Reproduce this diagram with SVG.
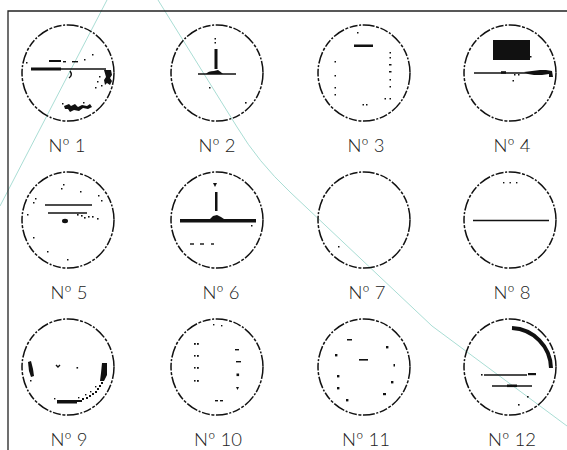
<svg xmlns="http://www.w3.org/2000/svg" width="567" height="450" viewBox="0 0 567 450">
<style>
.c{fill:none;stroke:#111;stroke-width:1.5;stroke-dasharray:12 1.6 3 1.6 8 1.6 2 1.6}
.l{fill:none;stroke:#111;stroke-width:1.4}
.k{fill:#111;stroke:none}
.t{font-family:Lato,"Liberation Sans",sans-serif;font-weight:300;font-size:18.5px;fill:#222;text-anchor:middle}
.bg{fill:none;stroke:#a9ddd4;stroke-width:1}
</style>
<rect width="567" height="450" fill="#fff"/>
<g id="background">
<path class="bg" d="M107,0 L0,206"/>
<path class="bg" d="M158,0 L237,127 Q258,162 290,192 L432,326 L567,426"/>
<path d="M8,450 V11 H567" fill="none" stroke="#222" stroke-width="1.3"/>
</g>

<g id="n1" transform="translate(68,73)">
<ellipse class="c" rx="46" ry="48"/>
<line class="l" x1="-37" y1="-4" x2="38" y2="-4"/>
<rect class="k" x="-37" y="-5.5" width="30" height="3"/>
<rect class="k" x="-19" y="-13" width="12" height="2"/>
<rect class="k" x="-5" y="-12" width="3" height="1.4"/>
<rect class="k" x="4" y="-12" width="6" height="1.4"/>
<rect class="k" x="16" y="-14" width="1.5" height="1.5"/>
<rect class="k" x="24" y="-19" width="1.5" height="1.5"/>
<rect class="k" x="-42" y="-11" width="1.5" height="1.5"/>
<path class="k" d="M36,-3 L43,-3 L44,2 L42,5 L44,8 L42,12 L39,10 L37,12 L36,7 L38,4 Z"/>
<rect class="k" x="31" y="3" width="1.5" height="1.5"/>
<rect class="k" x="29" y="8" width="1.5" height="1.5"/>
<rect class="k" x="33" y="12" width="1.5" height="1.5"/>
<rect class="k" x="27" y="14" width="1.5" height="1.5"/>
<path class="l" d="M2,-2 q3,4 -1,7" stroke-width="1.2"/>
<path class="k" d="M-4,33 L1,31 L3,33 L7,31 L10,34 L14,32 L19,33 L22,31 L24,34 L20,36 L15,35 L11,38 L6,37 L2,39 L0,36 L-3,36 Z"/>
<rect class="k" x="-6" y="30" width="1.5" height="1.5"/>
<rect class="k" x="15" y="29" width="1.5" height="1.5"/>
</g>

<g id="n2" transform="translate(217,73)">
<ellipse class="c" rx="46" ry="48"/>
<rect class="k" x="-2.5" y="-24" width="3" height="20"/>
<rect class="k" x="-2.5" y="-35" width="1.5" height="1.5"/>
<rect class="k" x="-2.5" y="-31" width="1.5" height="1.5"/>
<line class="l" x1="-19" y1="1" x2="19" y2="1"/>
<path class="k" d="M-11,1 Q-9,-2 -3,-2 L1,-3 Q4,-1 6,1 Z"/>
<rect class="k" x="-8" y="14" width="1.5" height="1.5"/>
<rect class="k" x="28" y="29" width="1.6" height="1.6"/>
</g>

<g id="n3" transform="translate(364,73)">
<ellipse class="c" rx="46" ry="48"/>
<rect class="k" x="-10" y="-28.5" width="19" height="2.5"/>
<g class="k">
<rect x="-7" y="-41" width="1.5" height="1.5"/>
<rect x="-29.5" y="-12" width="1.5" height="1.5"/>
<rect x="-29.5" y="2" width="1.5" height="1.5"/>
<rect x="-29.5" y="14" width="1.5" height="1.5"/>
<rect x="-29.5" y="21" width="1.5" height="1.5"/>
<rect x="25.5" y="-21" width="1.5" height="1.5"/>
<rect x="25.5" y="-16" width="1.5" height="1.5"/>
<rect x="25" y="-9" width="2.5" height="1.5"/>
<rect x="25" y="-2" width="2.5" height="1.5"/>
<rect x="25.5" y="6" width="1.5" height="1.5"/>
<rect x="25.5" y="13" width="1.5" height="1.5"/>
<rect x="20.5" y="25" width="1.5" height="1.5"/>
<rect x="25.5" y="25" width="1.5" height="1.5"/>
<rect x="-1.5" y="31" width="1.5" height="1.5"/>
<rect x="2" y="31" width="1.5" height="1.5"/>
</g>
</g>

<g id="n4" transform="translate(510,73)">
<ellipse class="c" rx="46" ry="48"/>
<rect class="k" x="-17" y="-33" width="37" height="20"/>
<rect class="k" x="20" y="-17" width="1.5" height="1.5"/>
<line class="l" x1="-36" y1="0" x2="30" y2="0" stroke-width="1.2"/>
<rect class="k" x="-9" y="-1.8" width="5" height="2.5"/>
<path class="k" d="M14,-1 L30,-3 L36,-3 L42,-2 L43,4 L39,4 L39,1 L32,2 L24,2 L18,1 Z"/>
<rect class="k" x="2.5" y="7" width="1.5" height="1.5"/>
<rect class="k" x="4" y="1" width="1.5" height="1.5"/>
<rect class="k" x="8" y="1" width="1.5" height="1.5"/>
</g>

<g id="n5" transform="translate(68,220)">
<ellipse class="c" rx="46" ry="48"/>
<line class="l" x1="-23" y1="-15" x2="24" y2="-15"/>
<line class="l" x1="-20" y1="-7" x2="19" y2="-7" stroke-width="2"/>
<g class="k">
<rect x="9" y="-6" width="1.6" height="1.6"/>
<rect x="13" y="-5" width="1.6" height="1.6"/>
<rect x="16" y="-3" width="1.6" height="1.6"/>
<rect x="20" y="-4" width="1.6" height="1.6"/>
<rect x="24" y="-4" width="1.6" height="1.6"/>
<rect x="29" y="-2" width="1.6" height="1.6"/>
<ellipse cx="-3" cy="1" rx="3" ry="2.2"/>
<rect x="-5" y="-36" width="1.5" height="1.5"/>
<rect x="-7" y="-32" width="1.5" height="1.5"/>
<rect x="12" y="-29" width="1.5" height="1.5"/>
<rect x="30" y="-25" width="1.5" height="1.5"/>
<rect x="33" y="-20" width="1.5" height="1.5"/>
<rect x="-33" y="-22" width="1.5" height="1.5"/>
<rect x="-35" y="-18" width="1.5" height="1.5"/>
<rect x="-41" y="-6" width="1.5" height="1.5"/>
<rect x="-35" y="17" width="1.5" height="1.5"/>
<rect x="-21" y="31" width="1.5" height="1.5"/>
<rect x="-1" y="39" width="1.5" height="1.5"/>
</g>
</g>

<g id="n6" transform="translate(217,220)">
<ellipse class="c" rx="46" ry="48"/>
<path class="k" d="M-4,-37 L0,-37 L-2,-33 Z"/>
<rect class="k" x="-2" y="-28" width="2.5" height="19"/>
<rect class="k" x="-37" y="-1" width="76" height="3.5"/>
<path class="k" d="M-7,-1 L-4,-4 L0,-5 L4,-3 L7,-1 Z"/>
<rect class="k" x="34" y="5" width="1.5" height="1.5"/>
<g class="l" stroke-width="1.3">
<line x1="-27" y1="24" x2="-23" y2="24"/>
<line x1="-17" y1="24" x2="-13" y2="24"/>
<line x1="-6" y1="24" x2="-3" y2="24"/>
</g>
</g>

<g id="n7" transform="translate(364,220)">
<ellipse class="c" rx="46" ry="48"/>
<rect class="k" x="-26" y="26" width="1.5" height="1.5"/>
</g>

<g id="n8" transform="translate(510,220)">
<ellipse class="c" rx="46" ry="48"/>
<line class="l" x1="-37" y1="0.5" x2="39" y2="0.5"/>
<rect class="k" x="-7" y="-38" width="1.4" height="1.4"/>
<rect class="k" x="-0.5" y="-38" width="1.4" height="1.4"/>
<rect class="k" x="6" y="-38" width="1.4" height="1.4"/>
</g>

<g id="n9" transform="translate(68,367)">
<ellipse class="c" rx="46" ry="48"/>
<path class="k" d="M-40,-5 L-37,-6 L-35,2 L-34,9 L-37,10 L-39,4 Z"/>
<rect class="k" x="-38" y="13" width="1.5" height="1.5"/>
<path class="l" d="M-12,-2 L-10,0 L-8,-2" stroke-width="1.2"/>
<rect class="k" x="8.5" y="0" width="1.6" height="1.6"/>
<path class="k" d="M34,-4 L39,-4 L39,8 L36,14 L32,14 L33,6 Z"/>
<g class="k">
<rect x="33" y="15" width="2" height="2"/>
<rect x="31" y="18" width="2" height="2"/>
<rect x="29" y="21" width="2" height="2"/>
<rect x="27" y="24" width="2" height="2"/>
<rect x="24" y="26" width="2" height="2"/>
<rect x="21" y="28" width="2" height="2"/>
<rect x="18" y="30" width="2" height="2"/>
<rect x="14" y="31" width="2" height="2"/>
<rect x="27" y="19" width="1.4" height="1.4"/>
<rect x="22" y="24" width="1.4" height="1.4"/>
<rect x="17" y="27" width="1.4" height="1.4"/>
<rect x="10" y="30" width="1.4" height="1.4"/>
<rect x="-14" y="31" width="1.4" height="1.4"/>
<rect x="-11" y="33" width="20" height="3.5"/>
<rect x="9" y="33" width="5" height="2"/>
</g>
</g>

<g id="n10" transform="translate(217,367)">
<ellipse class="c" rx="46" ry="48"/>
<g class="k">
<rect x="-23" y="-24" width="1.8" height="1.8"/>
<rect x="-20" y="-24" width="1.8" height="1.8"/>
<rect x="-23" y="-12" width="1.6" height="1.6"/>
<rect x="-20" y="-12" width="1.8" height="1.8"/>
<rect x="-23" y="0" width="1.6" height="1.6"/>
<rect x="-20" y="0" width="1.8" height="1.8"/>
<rect x="-23" y="13" width="1.6" height="1.6"/>
<rect x="-20" y="13" width="1.8" height="1.8"/>
<rect x="18" y="-18" width="4" height="1.4"/>
<rect x="19" y="-6" width="5" height="1.4"/>
<rect x="19.5" y="6.5" width="2.6" height="2.6"/>
<path d="M19,20 L22,20 L20.5,23 Z"/>
<rect x="-2" y="33" width="3" height="1.4"/>
<rect x="3" y="33" width="3" height="1.4"/>
<rect x="-4" y="-43" width="1.4" height="1.4"/>
<rect x="4" y="-42" width="1.4" height="1.4"/>
</g>
</g>

<g id="n11" transform="translate(364,367)">
<ellipse class="c" rx="46" ry="48"/>
<g class="k">
<rect x="-17" y="-28" width="5" height="1.5"/>
<rect x="-5" y="-8" width="9" height="1.6"/>
<rect x="-29" y="-13" width="2.4" height="2.4"/>
<rect x="22" y="-21" width="2.4" height="2.4"/>
<rect x="29.5" y="-3" width="1.5" height="2.5"/>
<rect x="-27" y="8" width="2.4" height="2.4"/>
<rect x="-27" y="20" width="2.4" height="2.4"/>
<rect x="27" y="14" width="2.4" height="2.4"/>
<rect x="19" y="26" width="3" height="2.2"/>
<rect x="-18" y="32" width="2.4" height="2.4"/>
</g>
</g>

<g id="n12" transform="translate(510,367)">
<ellipse class="c" rx="46" ry="48"/>
<path d="M2,-39 A41,41 0 0 1 41,1" fill="none" stroke="#111" stroke-width="4"/>
<line class="l" x1="-26" y1="8" x2="17" y2="8" stroke-width="1.3"/>
<rect class="k" x="-29" y="7" width="1.6" height="1.6"/>
<rect class="k" x="18" y="6" width="8" height="2.2"/>
<line class="l" x1="-18" y1="19" x2="22" y2="19" stroke-width="1.4"/>
<rect class="k" x="-3" y="17.5" width="10" height="2.6"/>
<rect class="k" x="17" y="29" width="1.6" height="1.6"/>
<rect class="k" x="8" y="37" width="1.6" height="1.6"/>
</g>

<g id="labels">
<text class="t" x="67" y="152">Nº 1</text>
<text class="t" x="217" y="152">Nº 2</text>
<text class="t" x="366" y="152">Nº 3</text>
<text class="t" x="512" y="152">Nº 4</text>
<text class="t" x="69" y="299">Nº 5</text>
<text class="t" x="221" y="299">Nº 6</text>
<text class="t" x="367" y="299">Nº 7</text>
<text class="t" x="512" y="299">Nº 8</text>
<text class="t" x="69" y="446">Nº 9</text>
<text class="t" x="218" y="446">Nº 10</text>
<text class="t" x="366" y="446">Nº 11</text>
<text class="t" x="512" y="446">Nº 12</text>
</g>
</svg>
